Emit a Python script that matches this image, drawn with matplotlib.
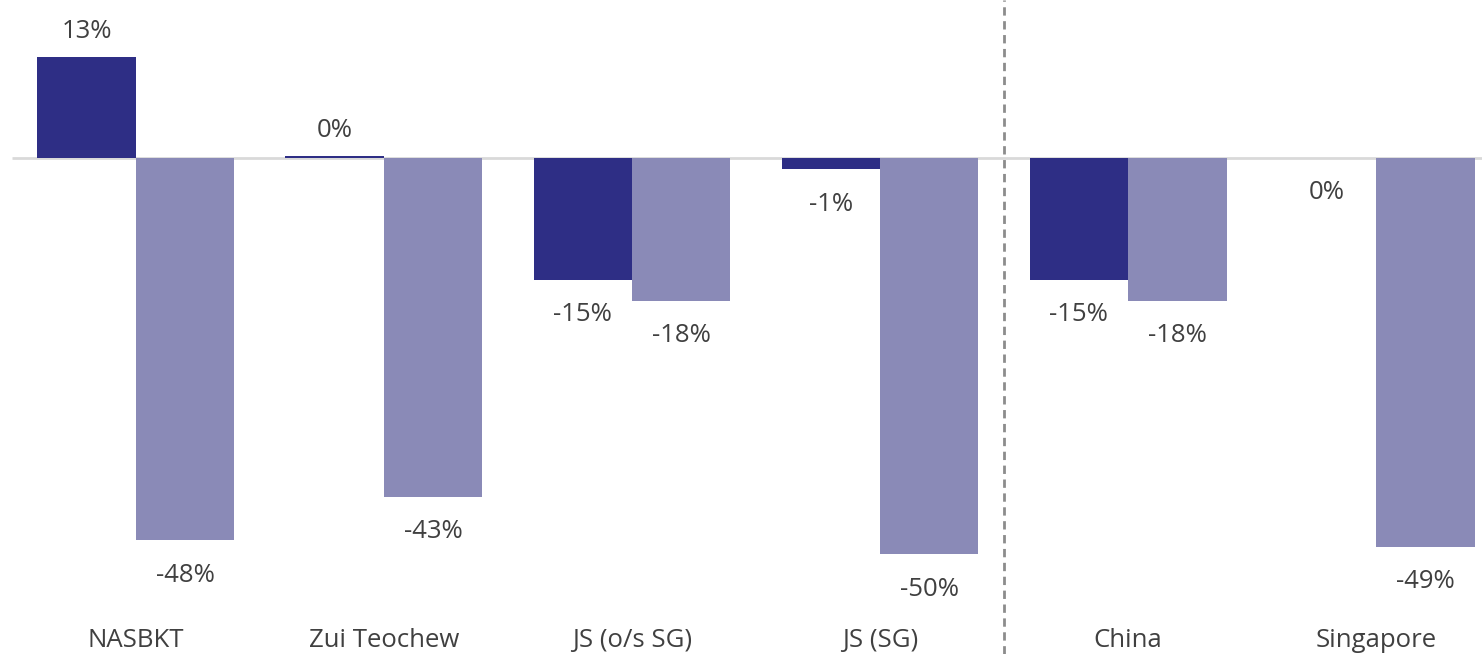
import matplotlib.pyplot as plt
import numpy as np

plt.rcParams['font.family'] = ['Open Sans', 'DejaVu Sans']

# Data
categories = ["NASBKT", "Zui Teochew", "JS (o/s SG)", "JS (SG)", "China", "Singapore"]
series_a = [0.128, 0.003, -0.154, -0.014, -0.154, 0.0]
series_b = [-0.484, -0.429, -0.181, -0.502, -0.181, -0.492]

dark = "#2E2E85"
light = "#8A8AB7"
text_col = "#404040"

fig = plt.figure(figsize=(14.82, 6.54), dpi=100)
ax = fig.add_axes([0, 0, 1, 1])

x = np.arange(len(categories))
w = 0.397
ax.bar(x - w / 2, series_a, w, color=dark, zorder=2)
ax.bar(x + w / 2, series_b, w, color=light, zorder=2)

ax.set_xlim(-0.548, 5.427)
ax.set_ylim(-0.628, 0.2)

# baseline and divider
ax.hlines(0, -0.50, 5.427, color="#D9D9D9", lw=2, zorder=1)
ax.axvline(3.5, color="#8C8C8C", lw=2, ls=(0, (3, 2)), zorder=1)


def fmt(v):
    return f"{int(round(v * 100))}%"


fs = 18.5
for xs, vals in ((x - w / 2, series_a), (x + w / 2, series_b)):
    for xi, v in zip(xs, vals):
        off = 25 if v > 0 else -35
        ax.annotate(fmt(v), (xi, v), xytext=(0, off), textcoords="offset pixels",
                    ha="center", va="center", fontsize=fs, color=text_col)

for xi, c in zip(x, categories):
    ax.text(xi, -0.611, c, ha="center", va="center", fontsize=fs, color=text_col)

ax.axis("off")
fig.savefig("out.png", dpi=100)
